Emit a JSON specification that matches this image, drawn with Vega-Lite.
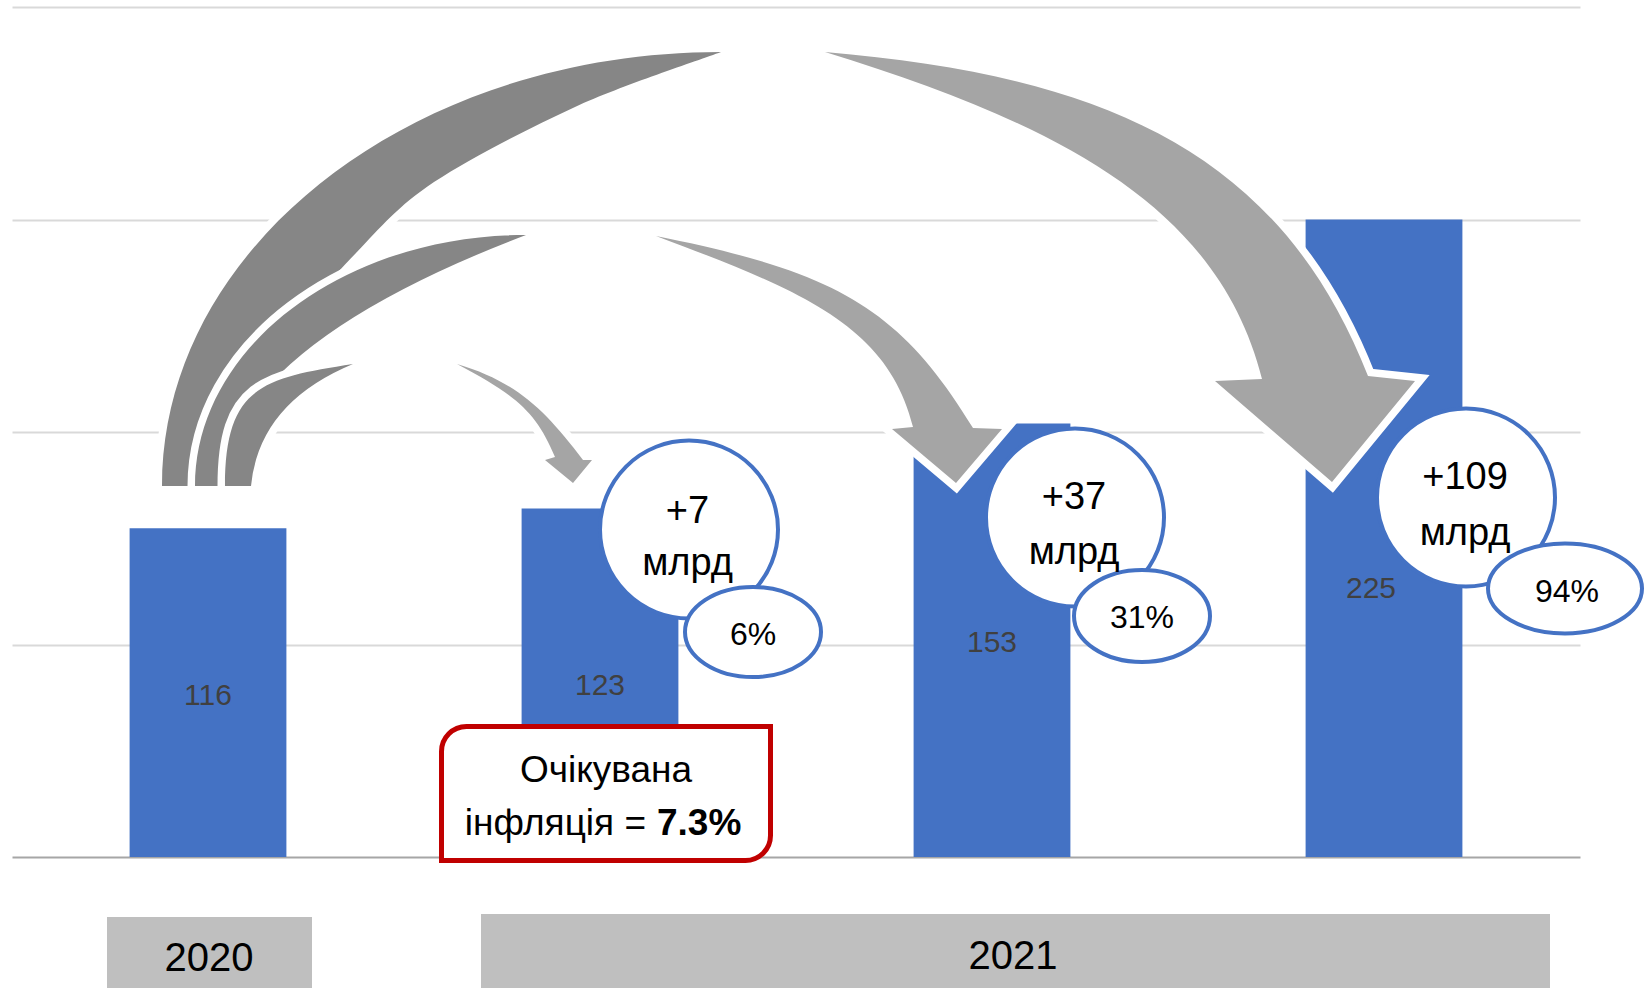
{
  "$schema": "https://vega.github.io/schema/vega-lite/v6.json",
  "width": 1568,
  "height": 850,
  "autosize": {"type": "none"},
  "padding": {"left": 12, "top": 7, "right": 65, "bottom": 131},
  "background": "white",
  "config": {"view": {"stroke": null}},
  "datasets": {
    "bars": [
      {"cat": "2020", "period": "2020", "value": 116},
      {"cat": "2021a", "period": "2021", "value": 123, "delta": "+7", "pct": "6%"},
      {"cat": "2021b", "period": "2021", "value": 153, "delta": "+37", "pct": "31%"},
      {"cat": "2021c", "period": "2021", "value": 225, "delta": "+109", "pct": "94%"}
    ],
    "periods": [
      {"period": "2020", "first": "2020", "last": "2020"},
      {"period": "2021", "first": "2021a", "last": "2021c"}
    ]
  },
  "data": {"name": "bars"},
  "layer": [
    {
      "layer": [
        {
          "mark": {"type": "bar", "color": "#4472C4"},
          "encoding": {
            "x": {"field": "cat", "type": "nominal", "scale": {"type": "band", "domain": ["2020", "2021a", "2021b", "2021c"], "paddingInner": 0.6, "paddingOuter": 0.3}, "axis": {"labels": false, "ticks": false, "title": null, "grid": false, "domain": true, "domainColor": "#A6A6A6", "domainWidth": 2}},
            "y": {"field": "value", "type": "quantitative", "scale": {"domain": [0, 300], "nice": false}, "axis": {"values": [75, 150, 225, 300], "grid": true, "gridColor": "#D9D9D9", "gridWidth": 2, "labels": false, "ticks": false, "domain": false, "title": null}}
          }
        },
        {
          "transform": [{"filter": "datum.cat === '2020'"}],
          "mark": {"type": "point", "shape": "M -46 -371 A 559 434 0 0 1 513 -805 C 489 -796 415 -772 367 -750 C 319 -728 263 -699 226 -675 C 190 -651 173 -630 148 -604 C 123 -578 102 -556 77 -517 C 52 -478 10 -395 -3 -371 Z", "size": 4, "filled": true, "fill": "white", "stroke": "white", "strokeWidth": 15, "opacity": 1},
          "encoding": {"x": {"field": "cat", "type": "nominal"}, "y": {"datum": 0, "type": "quantitative"}}
        },
        {
          "transform": [{"filter": "datum.cat === '2020'"}],
          "mark": {"type": "point", "shape": "M -46 -371 A 559 434 0 0 1 513 -805 C 489 -796 415 -772 367 -750 C 319 -728 263 -699 226 -675 C 190 -651 173 -630 148 -604 C 123 -578 102 -556 77 -517 C 52 -478 10 -395 -3 -371 Z", "size": 4, "filled": true, "fill": "#868686", "strokeWidth": 0, "opacity": 1},
          "encoding": {"x": {"field": "cat", "type": "nominal"}, "y": {"datum": 0, "type": "quantitative"}}
        },
        {
          "transform": [{"filter": "datum.cat === '2020'"}],
          "mark": {"type": "point", "shape": "M 617 -805 C 887 -782 1070 -711 1160 -481 L 1207 -476 L 1124 -375 L 1007 -476 L 1054 -478 C 1010 -653 847 -734 617 -805 Z", "size": 4, "filled": true, "fill": "white", "stroke": "white", "strokeWidth": 15, "opacity": 1},
          "encoding": {"x": {"field": "cat", "type": "nominal"}, "y": {"datum": 0, "type": "quantitative"}}
        },
        {
          "transform": [{"filter": "datum.cat === '2020'"}],
          "mark": {"type": "point", "shape": "M 617 -805 C 887 -782 1070 -711 1160 -481 L 1207 -476 L 1124 -375 L 1007 -476 L 1054 -478 C 1010 -653 847 -734 617 -805 Z", "size": 4, "filled": true, "fill": "#A5A5A5", "strokeWidth": 0, "opacity": 1},
          "encoding": {"x": {"field": "cat", "type": "nominal"}, "y": {"datum": 0, "type": "quantitative"}}
        },
        {
          "transform": [{"filter": "datum.cat === '2020'"}],
          "mark": {"type": "point", "shape": "M -13 -371 A 331 251 0 0 1 318 -622 Q 24 -510 12 -371 Z", "size": 4, "filled": true, "fill": "white", "stroke": "white", "strokeWidth": 15, "opacity": 1},
          "encoding": {"x": {"field": "cat", "type": "nominal"}, "y": {"datum": 0, "type": "quantitative"}}
        },
        {
          "transform": [{"filter": "datum.cat === '2020'"}],
          "mark": {"type": "point", "shape": "M -13 -371 A 331 251 0 0 1 318 -622 Q 24 -510 12 -371 Z", "size": 4, "filled": true, "fill": "#868686", "strokeWidth": 0, "opacity": 1},
          "encoding": {"x": {"field": "cat", "type": "nominal"}, "y": {"datum": 0, "type": "quantitative"}}
        },
        {
          "transform": [{"filter": "datum.cat === '2020'"}],
          "mark": {"type": "point", "shape": "M 448 -621 C 628 -585 692 -549 765 -429 L 794 -428 L 748 -374 L 684 -428 L 705 -430 C 680 -530 598 -565 448 -621 Z", "size": 4, "filled": true, "fill": "white", "stroke": "white", "strokeWidth": 15, "opacity": 1},
          "encoding": {"x": {"field": "cat", "type": "nominal"}, "y": {"datum": 0, "type": "quantitative"}}
        },
        {
          "transform": [{"filter": "datum.cat === '2020'"}],
          "mark": {"type": "point", "shape": "M 448 -621 C 628 -585 692 -549 765 -429 L 794 -428 L 748 -374 L 684 -428 L 705 -430 C 680 -530 598 -565 448 -621 Z", "size": 4, "filled": true, "fill": "#A5A5A5", "strokeWidth": 0, "opacity": 1},
          "encoding": {"x": {"field": "cat", "type": "nominal"}, "y": {"datum": 0, "type": "quantitative"}}
        },
        {
          "transform": [{"filter": "datum.cat === '2020'"}],
          "mark": {"type": "point", "shape": "M 17 -371 C 17 -471 55 -479 145 -493 Q 51 -454 43 -371 Z", "size": 4, "filled": true, "fill": "white", "stroke": "white", "strokeWidth": 15, "opacity": 1},
          "encoding": {"x": {"field": "cat", "type": "nominal"}, "y": {"datum": 0, "type": "quantitative"}}
        },
        {
          "transform": [{"filter": "datum.cat === '2020'"}],
          "mark": {"type": "point", "shape": "M 17 -371 C 17 -471 55 -479 145 -493 Q 51 -454 43 -371 Z", "size": 4, "filled": true, "fill": "#868686", "strokeWidth": 0, "opacity": 1},
          "encoding": {"x": {"field": "cat", "type": "nominal"}, "y": {"datum": 0, "type": "quantitative"}}
        },
        {
          "transform": [{"filter": "datum.cat === '2020'"}],
          "mark": {"type": "point", "shape": "M 249 -493 C 309 -475 337 -447 375 -397 L 384 -397 L 365 -374 L 337 -397 L 347 -400 C 328 -445 309 -461 249 -493 Z", "size": 4, "filled": true, "fill": "white", "stroke": "white", "strokeWidth": 15, "opacity": 1},
          "encoding": {"x": {"field": "cat", "type": "nominal"}, "y": {"datum": 0, "type": "quantitative"}}
        },
        {
          "transform": [{"filter": "datum.cat === '2020'"}],
          "mark": {"type": "point", "shape": "M 249 -493 C 309 -475 337 -447 375 -397 L 384 -397 L 365 -374 L 337 -397 L 347 -400 C 328 -445 309 -461 249 -493 Z", "size": 4, "filled": true, "fill": "#A5A5A5", "strokeWidth": 0, "opacity": 1},
          "encoding": {"x": {"field": "cat", "type": "nominal"}, "y": {"datum": 0, "type": "quantitative"}}
        },
        {
          "transform": [{"filter": "datum.cat === '2021a'"}],
          "mark": {"type": "point", "shape": "M -133.5 -130.5 L 170.5 -130.5 L 170.5 -21.5 A 25 25 0 0 1 145.5 3.5 L -158.5 3.5 L -158.5 -105.5 A 25 25 0 0 1 -133.5 -130.5 Z", "size": 4, "filled": true, "fill": "white", "stroke": "#C00000", "strokeWidth": 5, "opacity": 1},
          "encoding": {"x": {"field": "cat", "type": "nominal"}, "y": {"datum": 0, "type": "quantitative"}}
        },
        {
          "transform": [{"filter": "datum.cat === '2021a'"}],
          "mark": {"type": "text", "text": "Очікувана", "font": "Liberation Sans, Arial, sans-serif", "fontSize": 37, "color": "#000000", "align": "center", "baseline": "alphabetic", "xOffset": 6, "yOffset": -74.7},
          "encoding": {"x": {"field": "cat", "type": "nominal"}, "y": {"datum": 0, "type": "quantitative"}}
        },
        {
          "transform": [{"filter": "datum.cat === '2021a'"}],
          "mark": {"type": "text", "text": "інфляція =", "font": "Liberation Sans, Arial, sans-serif", "fontSize": 37, "color": "#000000", "align": "right", "baseline": "alphabetic", "xOffset": 46, "yOffset": -22.5},
          "encoding": {"x": {"field": "cat", "type": "nominal"}, "y": {"datum": 0, "type": "quantitative"}}
        },
        {
          "transform": [{"filter": "datum.cat === '2021a'"}],
          "mark": {"type": "text", "text": "7.3%", "font": "Liberation Sans, Arial, sans-serif", "fontSize": 37, "fontWeight": "bold", "color": "#000000", "align": "left", "baseline": "alphabetic", "xOffset": 57, "yOffset": -22.5},
          "encoding": {"x": {"field": "cat", "type": "nominal"}, "y": {"datum": 0, "type": "quantitative"}}
        },
        {
          "transform": [{"filter": "datum.cat === '2021a'"}],
          "mark": {"type": "point", "shape": "circle", "size": 31684, "filled": true, "fill": "white", "stroke": "#4472C4", "strokeWidth": 4, "opacity": 1, "xOffset": 89, "yOffset": 21},
          "encoding": {"x": {"field": "cat", "type": "nominal"}, "y": {"field": "value", "type": "quantitative"}}
        },
        {
          "transform": [{"filter": "datum.cat === '2021b'"}],
          "mark": {"type": "point", "shape": "circle", "size": 31684, "filled": true, "fill": "white", "stroke": "#4472C4", "strokeWidth": 4, "opacity": 1, "xOffset": 83, "yOffset": 94},
          "encoding": {"x": {"field": "cat", "type": "nominal"}, "y": {"field": "value", "type": "quantitative"}}
        },
        {
          "transform": [{"filter": "datum.cat === '2021c'"}],
          "mark": {"type": "point", "shape": "circle", "size": 31684, "filled": true, "fill": "white", "stroke": "#4472C4", "strokeWidth": 4, "opacity": 1, "xOffset": 82, "yOffset": 278},
          "encoding": {"x": {"field": "cat", "type": "nominal"}, "y": {"field": "value", "type": "quantitative"}}
        },
        {
          "transform": [{"filter": "datum.cat === '2021a'"}],
          "mark": {"type": "point", "shape": "M -68 0 A 68 45 0 1 1 68 0 A 68 45 0 1 1 -68 0 Z", "size": 4, "filled": true, "fill": "white", "stroke": "#4472C4", "strokeWidth": 4, "opacity": 1, "xOffset": 153, "yOffset": 123.5},
          "encoding": {"x": {"field": "cat", "type": "nominal"}, "y": {"field": "value", "type": "quantitative"}}
        },
        {
          "transform": [{"filter": "datum.cat === '2021b'"}],
          "mark": {"type": "point", "shape": "M -68 0 A 68 46 0 1 1 68 0 A 68 46 0 1 1 -68 0 Z", "size": 4, "filled": true, "fill": "white", "stroke": "#4472C4", "strokeWidth": 4, "opacity": 1, "xOffset": 150, "yOffset": 192.5},
          "encoding": {"x": {"field": "cat", "type": "nominal"}, "y": {"field": "value", "type": "quantitative"}}
        },
        {
          "transform": [{"filter": "datum.cat === '2021c'"}],
          "mark": {"type": "point", "shape": "M -77 0 A 77 45 0 1 1 77 0 A 77 45 0 1 1 -77 0 Z", "size": 4, "filled": true, "fill": "white", "stroke": "#4472C4", "strokeWidth": 4, "opacity": 1, "xOffset": 181, "yOffset": 369},
          "encoding": {"x": {"field": "cat", "type": "nominal"}, "y": {"field": "value", "type": "quantitative"}}
        },
        {
          "transform": [{"filter": "datum.cat === '2021a'"}],
          "mark": {"type": "text", "font": "Liberation Sans, Arial, sans-serif", "fontSize": 38, "color": "#000000", "align": "center", "baseline": "alphabetic", "xOffset": 87.5, "yOffset": 14.3},
          "encoding": {"x": {"field": "cat", "type": "nominal"}, "y": {"field": "value", "type": "quantitative"}, "text": {"field": "delta"}}
        },
        {
          "transform": [{"filter": "datum.cat === '2021b'"}],
          "mark": {"type": "text", "font": "Liberation Sans, Arial, sans-serif", "fontSize": 38, "color": "#000000", "align": "center", "baseline": "alphabetic", "xOffset": 82, "yOffset": 85.5},
          "encoding": {"x": {"field": "cat", "type": "nominal"}, "y": {"field": "value", "type": "quantitative"}, "text": {"field": "delta"}}
        },
        {
          "transform": [{"filter": "datum.cat === '2021c'"}],
          "mark": {"type": "text", "font": "Liberation Sans, Arial, sans-serif", "fontSize": 38, "color": "#000000", "align": "center", "baseline": "alphabetic", "xOffset": 81, "yOffset": 269},
          "encoding": {"x": {"field": "cat", "type": "nominal"}, "y": {"field": "value", "type": "quantitative"}, "text": {"field": "delta"}}
        },
        {
          "transform": [{"filter": "datum.cat === '2021a'"}],
          "mark": {"type": "text", "text": "млрд", "font": "Liberation Sans, Arial, sans-serif", "fontSize": 38, "color": "#000000", "align": "center", "baseline": "alphabetic", "xOffset": 87.5, "yOffset": 66.4},
          "encoding": {"x": {"field": "cat", "type": "nominal"}, "y": {"field": "value", "type": "quantitative"}}
        },
        {
          "transform": [{"filter": "datum.cat === '2021b'"}],
          "mark": {"type": "text", "text": "млрд", "font": "Liberation Sans, Arial, sans-serif", "fontSize": 38, "color": "#000000", "align": "center", "baseline": "alphabetic", "xOffset": 82, "yOffset": 140.5},
          "encoding": {"x": {"field": "cat", "type": "nominal"}, "y": {"field": "value", "type": "quantitative"}}
        },
        {
          "transform": [{"filter": "datum.cat === '2021c'"}],
          "mark": {"type": "text", "text": "млрд", "font": "Liberation Sans, Arial, sans-serif", "fontSize": 38, "color": "#000000", "align": "center", "baseline": "alphabetic", "xOffset": 81, "yOffset": 325.3},
          "encoding": {"x": {"field": "cat", "type": "nominal"}, "y": {"field": "value", "type": "quantitative"}}
        },
        {
          "transform": [{"filter": "datum.cat === '2021a'"}],
          "mark": {"type": "text", "font": "Liberation Sans, Arial, sans-serif", "fontSize": 32, "color": "#000000", "align": "center", "baseline": "alphabetic", "xOffset": 153, "yOffset": 136},
          "encoding": {"x": {"field": "cat", "type": "nominal"}, "y": {"field": "value", "type": "quantitative"}, "text": {"field": "pct"}}
        },
        {
          "transform": [{"filter": "datum.cat === '2021b'"}],
          "mark": {"type": "text", "font": "Liberation Sans, Arial, sans-serif", "fontSize": 32, "color": "#000000", "align": "center", "baseline": "alphabetic", "xOffset": 150, "yOffset": 204.6},
          "encoding": {"x": {"field": "cat", "type": "nominal"}, "y": {"field": "value", "type": "quantitative"}, "text": {"field": "pct"}}
        },
        {
          "transform": [{"filter": "datum.cat === '2021c'"}],
          "mark": {"type": "text", "font": "Liberation Sans, Arial, sans-serif", "fontSize": 32, "color": "#000000", "align": "center", "baseline": "alphabetic", "xOffset": 183, "yOffset": 382},
          "encoding": {"x": {"field": "cat", "type": "nominal"}, "y": {"field": "value", "type": "quantitative"}, "text": {"field": "pct"}}
        },
        {
          "data": {"name": "periods"},
          "transform": [{"filter": "datum.period === '2020'"}],
          "mark": {"type": "rect", "color": "#BFBFBF", "xOffset": -22.6, "x2Offset": 25.6, "yOffset": 60, "y2Offset": 131},
          "encoding": {"x": {"field": "first", "type": "nominal", "bandPosition": 0}, "x2": {"field": "last", "bandPosition": 1}, "y": {"datum": 0, "type": "quantitative"}, "y2": {"datum": 0}}
        },
        {
          "data": {"name": "periods"},
          "transform": [{"filter": "datum.period === '2021'"}],
          "mark": {"type": "rect", "color": "#BFBFBF", "xOffset": -40.6, "x2Offset": 87.6, "yOffset": 57, "y2Offset": 131},
          "encoding": {"x": {"field": "first", "type": "nominal", "bandPosition": 0}, "x2": {"field": "last", "bandPosition": 1}, "y": {"datum": 0, "type": "quantitative"}, "y2": {"datum": 0}}
        },
        {
          "data": {"name": "periods"},
          "transform": [{"filter": "datum.period === '2020'"}],
          "mark": {"type": "text", "font": "Liberation Sans, Arial, sans-serif", "fontSize": 40, "color": "#000000", "align": "center", "baseline": "alphabetic", "xOffset": 1, "yOffset": 114},
          "encoding": {"x": {"field": "first", "type": "nominal"}, "y": {"datum": 0, "type": "quantitative"}, "text": {"field": "period"}}
        },
        {
          "transform": [{"filter": "datum.cat === '2021b'"}],
          "mark": {"type": "text", "font": "Liberation Sans, Arial, sans-serif", "fontSize": 40, "color": "#000000", "align": "center", "baseline": "alphabetic", "xOffset": 21, "yOffset": 112},
          "encoding": {"x": {"field": "cat", "type": "nominal"}, "y": {"datum": 0, "type": "quantitative"}, "text": {"field": "period"}}
        }
      ]
    },
    {
      "layer": [
        {
          "transform": [{"filter": "datum.value < 200"}],
          "mark": {"type": "text", "font": "Liberation Sans, Arial, sans-serif", "fontSize": 30, "color": "#404040", "align": "center", "baseline": "alphabetic", "yOffset": 12},
          "encoding": {"x": {"field": "cat", "type": "nominal"}, "y": {"field": "value", "type": "quantitative", "scale": {"domain": [0, 600], "nice": false}, "axis": null}, "text": {"field": "value"}}
        },
        {
          "transform": [{"filter": "datum.value >= 200"}],
          "mark": {"type": "text", "font": "Liberation Sans, Arial, sans-serif", "fontSize": 30, "color": "#404040", "align": "center", "baseline": "alphabetic", "xOffset": -13, "yOffset": 60},
          "encoding": {"x": {"field": "cat", "type": "nominal"}, "y": {"field": "value", "type": "quantitative", "scale": {"domain": [0, 600], "nice": false}, "axis": null}, "text": {"field": "value"}}
        }
      ]
    }
  ],
  "resolve": {"scale": {"y": "independent"}, "axis": {"y": "independent"}}
}
